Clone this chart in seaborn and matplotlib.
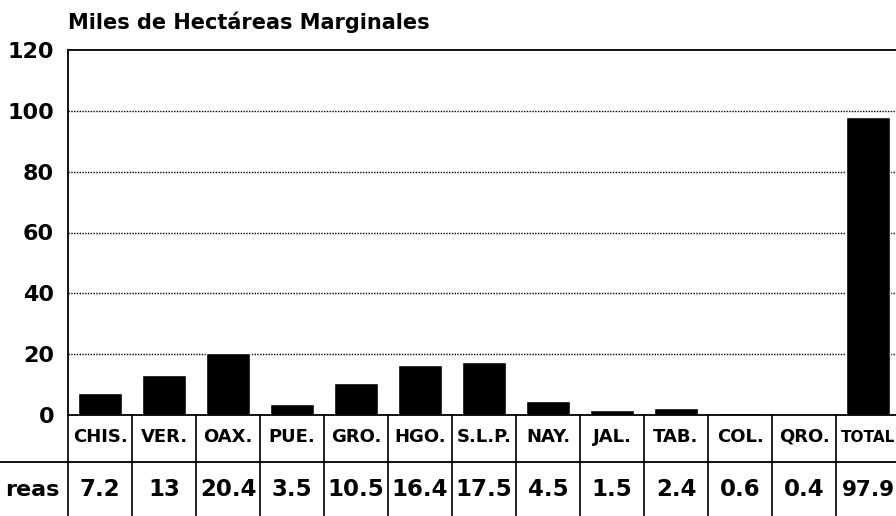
import numpy as np
import pandas as pd
import matplotlib
matplotlib.use("Agg")
import matplotlib.pyplot as plt
import matplotlib.transforms as mtransforms
import seaborn as sns

# Data
estados = ["CHIS.", "VER.", "OAX.", "PUE.", "GRO.", "HGO.", "S.L.P.", "NAY.",
           "JAL.", "TAB.", "COL.", "QRO.", "TOTAL"]
hectareas = [7.2, 13, 20.4, 3.5, 10.5, 16.4, 17.5, 4.5, 1.5, 2.4, 0.6, 0.4, 97.9]
valores_txt = ["7.2", "13", "20.4", "3.5", "10.5", "16.4", "17.5", "4.5",
               "1.5", "2.4", "0.6", "0.4", "97.9"]
yticks = [0, 20, 40, 60, 80, 100, 120]

df = pd.DataFrame({"estado": estados, "miles_ha": hectareas})

sns.set_style("white")
plt.rcParams["font.family"] = ["DejaVu Sans"]
plt.rcParams["font.weight"] = "bold"
plt.rcParams["text.color"] = "black"
plt.rcParams["ytick.color"] = "black"

W, H = 896, 516
fig = plt.figure(figsize=(W / 100, H / 100), dpi=100)
# axes right edge runs past the figure, like the cropped scan
ax = fig.add_axes([68 / W, (H - 415) / H, 832 / W, 365 / H])

sns.barplot(data=df, x="estado", y="miles_ha", color="black", width=0.7,
            saturation=1, ax=ax)

ax.set_ylim(0, 120)
ax.set_xlim(-0.5, len(estados) - 0.5)
ax.set_yticks(yticks)
ax.set_yticklabels([str(t) for t in yticks], fontsize=16, fontweight="bold",
                   color="black")
ax.tick_params(axis="y", length=0, pad=10)
ax.set_xticks([])
ax.set_xlabel("")
ax.set_ylabel("")

for y in yticks[1:-1]:
    ax.axhline(y, color="black", lw=1.0, ls=(0, (1, 1)), zorder=0)

for s in ax.spines.values():
    s.set_color("black")
    s.set_linewidth(1.3)

ax.set_title("Miles de Hectáreas Marginales", loc="left", fontsize=15,
             fontweight="bold", pad=15, color="black")

# table under the bars
trans = mtransforms.blended_transform_factory(ax.transData, ax.transAxes)
ax_h = 365.0
y_row_line = -(462 - 415) / ax_h
y_bottom = -(H - 415) / ax_h
y_cat = -(437 - 415) / ax_h
y_val = -(490 - 415) / ax_h

for i in range(len(estados) + 1):
    ax.plot([i - 0.5, i - 0.5], [0, y_bottom], color="black", lw=1.2,
            transform=trans, clip_on=False)
ax.plot([-0.5 - 68 / 64, len(estados) - 0.5], [y_row_line, y_row_line],
        color="black", lw=1.3, transform=trans, clip_on=False)

last = len(estados) - 1
for i, (e, v) in enumerate(zip(estados, valores_txt)):
    # last column is cut by the figure edge, so shrink it to stay visible
    fs_cat = 11 if i == last else 13
    fs_val = 15.5 if i == last else 16.5
    ax.text(i, y_cat, e, transform=trans, ha="center", va="center",
            fontsize=fs_cat, fontweight="bold", color="black")
    ax.text(i, y_val, v, transform=trans, ha="center", va="center",
            fontsize=fs_val, fontweight="bold", color="black")

# row label, only its tail is visible in the scan
ax.text(-0.5 - 8 / 64, y_val, "reas", transform=trans, ha="right",
        va="center", fontsize=16, fontweight="bold", color="black")

fig.savefig("out.png", dpi=100)
